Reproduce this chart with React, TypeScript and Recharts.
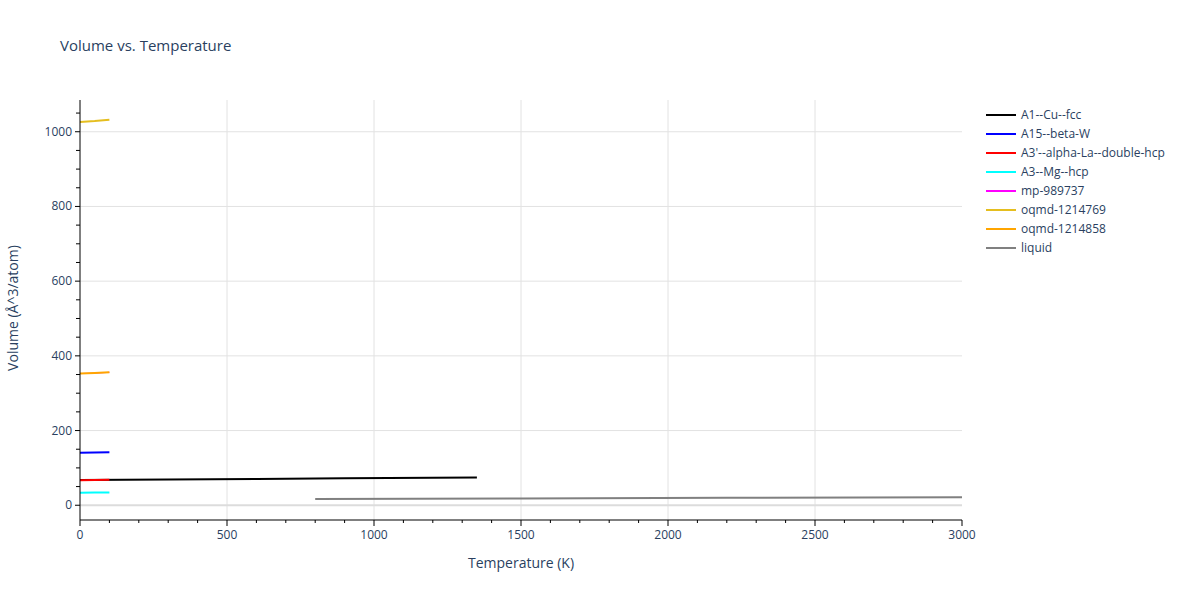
import React from "react";
import { LineChart, Line, XAxis, YAxis, ReferenceLine } from "recharts";

const seriesNames = [
  "A1--Cu--fcc",
  "A15--beta-W",
  "A3'--alpha-La--double-hcp",
  "A3--Mg--hcp",
  "mp-989737",
  "oqmd-1214769",
  "oqmd-1214858",
  "liquid",
];
const seriesColors = ["#000000", "#0000ff", "#ff0000", "#00ffff", "#ff00ff", "#e5be1f", "#ffa500", "#808080"];
const seriesWidths = [2, 2, 2, 2, 1, 2, 2, 2];

const cuT = [0, 300, 600, 900, 1200, 1350];
const cuV = [67.5, 69.0, 70.6, 72.2, 73.8, 74.6];
const betaWT = [0, 50, 100];
const betaWV = [140.5, 141.0, 142.0];
const laT = [0, 50, 100];
const laV = [67.0, 67.4, 68.0];
const mgT = [0, 50, 100];
const mgV = [33.5, 33.8, 34.4];
const mpT = [0, 50, 100];
const mpV = [352.5, 353.8, 355.8];
const oq769T = [0, 50, 100];
const oq769V = [1026, 1028.5, 1032];
const oq858T = [0, 50, 100];
const oq858V = [352.5, 353.8, 355.8];
const liqT = [800, 1500, 2200, 3000];
const liqV = [16.8, 18.2, 19.8, 21.6];

const xTicks = Array.from({ length: 31 }, (_, i) => i * 100);
const yTicks = Array.from({ length: 22 }, (_, i) => i * 50);
const xGrid = [500, 1000, 1500, 2000, 2500];
const yGrid = [200, 400, 600, 800, 1000];

const mk = (t: number[], v: number[]) => t.map((x, i) => ({ x, y: v[i] }));
const seriesData = [
  mk(cuT, cuV),
  mk(betaWT, betaWV),
  mk(laT, laV),
  mk(mgT, mgV),
  mk(mpT, mpV),
  mk(oq769T, oq769V),
  mk(oq858T, oq858V),
  mk(liqT, liqV),
];

const FONT = '"Open Sans", verdana, arial, sans-serif';
const TXT = "#2a3f5f";

const XTick = (props: any) => {
  const { x, y, payload } = props;
  const major = payload.value % 500 === 0;
  return (
    <g>
      <line x1={x} x2={x} y1={y} y2={y + (major ? 6 : 3)} stroke="#000" strokeWidth={1} />
      {major && (
        <text x={x} y={y + 19} textAnchor="middle" fontSize={12} fill={TXT} fontFamily={FONT}>
          {payload.value}
        </text>
      )}
    </g>
  );
};

const YTick = (props: any) => {
  const { x, y, payload } = props;
  const major = payload.value % 200 === 0;
  return (
    <g>
      <line x1={x} x2={x - (major ? 5 : 4)} y1={y} y2={y} stroke="#000" strokeWidth={1} />
      {major && (
        <text x={x - 8} y={y + 4} textAnchor="end" fontSize={12} fill={TXT} fontFamily={FONT}>
          {payload.value}
        </text>
      )}
    </g>
  );
};

export default function App() {
  return (
    <div style={{ position: "absolute", left: 0, top: 0, width: 1200, height: 600, background: "#fff", fontFamily: FONT }}>
      <LineChart width={1200} height={600} margin={{ top: 100, right: 238, bottom: 50, left: 30 }}>
        {xGrid.map((v) => (
          <ReferenceLine key={"gx" + v} x={v} stroke="#e2e2e2" strokeWidth={1} ifOverflow="hidden" />
        ))}
        {yGrid.map((v) => (
          <ReferenceLine key={"gy" + v} y={v} stroke="#e2e2e2" strokeWidth={1} ifOverflow="hidden" />
        ))}
        <ReferenceLine y={0} stroke="#dcdcdc" strokeWidth={2} />
        <XAxis
          type="number"
          dataKey="x"
          domain={[0, 3000]}
          ticks={xTicks}
          interval={0}
          allowDataOverflow
          height={30}
          tickSize={0}
          tickMargin={0}
          tickLine={false}
          axisLine={{ stroke: "#000", strokeWidth: 1 }}
          tick={<XTick />}
        />
        <YAxis
          type="number"
          dataKey="y"
          domain={[-39.5, 1085]}
          ticks={yTicks}
          interval={0}
          allowDataOverflow
          width={50}
          tickSize={0}
          tickMargin={0}
          tickLine={false}
          axisLine={{ stroke: "#000", strokeWidth: 1 }}
          tick={<YTick />}
        />
        {seriesData.map((d, i) => (
          <Line
            key={seriesNames[i]}
            data={d}
            dataKey="y"
            type="linear"
            stroke={seriesColors[i]}
            strokeWidth={seriesWidths[i]}
            dot={false}
            activeDot={false}
            isAnimationActive={false}
          />
        ))}
      </LineChart>
      <div style={{ position: "absolute", left: 60, top: 35, fontSize: 15, color: TXT }}>Volume vs. Temperature</div>
      <div style={{ position: "absolute", left: 80, width: 882, top: 553, textAlign: "center", fontSize: 14, color: TXT }}>
        Temperature (K)
      </div>
      <div
        style={{
          position: "absolute",
          left: 12,
          top: 308,
          fontSize: 14,
          color: TXT,
          whiteSpace: "nowrap",
          transform: "translate(-50%, -50%) rotate(-90deg)",
        }}
      >
        Volume (Å^3/atom)
      </div>
      <div style={{ position: "absolute", left: 986, top: 105 }}>
        {seriesNames.map((n, i) => (
          <div key={n} style={{ height: 19, display: "flex", alignItems: "center" }}>
            <div style={{ width: 30, height: 2, background: seriesColors[i], marginRight: 5 }} />
            <span style={{ fontSize: 12, color: TXT, whiteSpace: "nowrap" }}>{n}</span>
          </div>
        ))}
      </div>
    </div>
  );
}
